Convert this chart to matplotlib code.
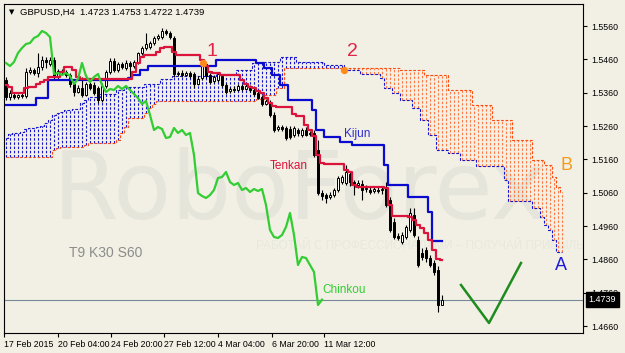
import matplotlib
matplotlib.use("Agg")
import matplotlib.pyplot as plt
import numpy as np

plt.rcParams["font.family"] = ["Liberation Sans", "DejaVu Sans"]

# ---------------------------------------------------------------------------
# Data (GBPUSD H4)
# ---------------------------------------------------------------------------
opens = [1.5398, 1.5347, 1.5353, 1.5347, 1.5353, 1.5350, 1.5422, 1.5428, 1.5419, 1.5437,
         1.5458, 1.5446, 1.5458, 1.5407, 1.5425, 1.5422, 1.5413, 1.5386, 1.5362, 1.5374,
         1.5353, 1.5386, 1.5383, 1.5374, 1.5338, 1.5380, 1.5422, 1.5455, 1.5428, 1.5446,
         1.5434, 1.5449, 1.5440, 1.5452, 1.5479, 1.5494, 1.5497, 1.5509, 1.5524, 1.5527,
         1.5545, 1.5539, 1.5524, 1.5416, 1.5419, 1.5413, 1.5419, 1.5416, 1.5386, 1.5404,
         1.5446, 1.5413, 1.5395, 1.5398, 1.5410, 1.5383, 1.5365, 1.5371, 1.5368, 1.5380,
         1.5371, 1.5380, 1.5368, 1.5359, 1.5347, 1.5326, 1.5332, 1.5293, 1.5251, 1.5257,
         1.5254, 1.5251, 1.5233, 1.5248, 1.5233, 1.5248, 1.5236, 1.5239, 1.5188, 1.5059,
         1.5053, 1.5047, 1.5053, 1.5068, 1.5092, 1.5089, 1.5116, 1.5092, 1.5083, 1.5086,
         1.5071, 1.5068, 1.5065, 1.5068, 1.5068, 1.5077, 1.5038, 1.4972, 1.4930, 1.4912,
         1.4927, 1.4948, 1.4993, 1.4918, 1.4879, 1.4888, 1.4864, 1.4849, 1.4828, 1.4723]
highs = [1.5407, 1.5368, 1.5359, 1.5356, 1.5359, 1.5434, 1.5437, 1.5434, 1.5479, 1.5470,
         1.5467, 1.5467, 1.5467, 1.5431, 1.5431, 1.5428, 1.5419, 1.5392, 1.5383, 1.5407,
         1.5392, 1.5392, 1.5392, 1.5380, 1.5389, 1.5428, 1.5464, 1.5464, 1.5452, 1.5452,
         1.5458, 1.5455, 1.5458, 1.5482, 1.5500, 1.5539, 1.5515, 1.5530, 1.5536, 1.5554,
         1.5551, 1.5545, 1.5530, 1.5425, 1.5428, 1.5425, 1.5425, 1.5422, 1.5410, 1.5458,
         1.5452, 1.5419, 1.5413, 1.5422, 1.5416, 1.5389, 1.5377, 1.5380, 1.5386, 1.5386,
         1.5386, 1.5383, 1.5374, 1.5365, 1.5353, 1.5341, 1.5338, 1.5302, 1.5263, 1.5263,
         1.5260, 1.5260, 1.5260, 1.5254, 1.5254, 1.5257, 1.5245, 1.5248, 1.5218, 1.5068,
         1.5059, 1.5062, 1.5074, 1.5110, 1.5113, 1.5143, 1.5122, 1.5098, 1.5098, 1.5098,
         1.5083, 1.5077, 1.5080, 1.5077, 1.5080, 1.5092, 1.5047, 1.4984, 1.4939, 1.4942,
         1.4963, 1.5014, 1.5014, 1.4930, 1.4894, 1.4897, 1.4873, 1.4858, 1.4840, 1.4753]
lows = [1.5338, 1.5338, 1.5341, 1.5341, 1.5344, 1.5344, 1.5416, 1.5413, 1.5407, 1.5428,
        1.5434, 1.5440, 1.5398, 1.5401, 1.5416, 1.5407, 1.5377, 1.5350, 1.5359, 1.5347,
        1.5350, 1.5368, 1.5353, 1.5329, 1.5332, 1.5374, 1.5416, 1.5422, 1.5422, 1.5431,
        1.5428, 1.5404, 1.5434, 1.5446, 1.5473, 1.5488, 1.5491, 1.5503, 1.5518, 1.5521,
        1.5533, 1.5521, 1.5407, 1.5410, 1.5407, 1.5410, 1.5404, 1.5374, 1.5383, 1.5398,
        1.5404, 1.5386, 1.5389, 1.5392, 1.5377, 1.5356, 1.5359, 1.5362, 1.5365, 1.5365,
        1.5368, 1.5362, 1.5350, 1.5341, 1.5320, 1.5323, 1.5287, 1.5242, 1.5245, 1.5245,
        1.5218, 1.5221, 1.5227, 1.5230, 1.5227, 1.5230, 1.5230, 1.5167, 1.5053, 1.5038,
        1.5029, 1.5041, 1.5047, 1.5062, 1.5086, 1.5083, 1.5080, 1.5053, 1.5074, 1.5038,
        1.5062, 1.5056, 1.5059, 1.5059, 1.5056, 1.5017, 1.4942, 1.4921, 1.4918, 1.4906,
        1.4921, 1.4942, 1.4927, 1.4837, 1.4858, 1.4852, 1.4837, 1.4813, 1.4702, 1.4722]
closes = [1.5347, 1.5359, 1.5347, 1.5353, 1.5350, 1.5422, 1.5428, 1.5419, 1.5437, 1.5458,
          1.5452, 1.5458, 1.5407, 1.5425, 1.5422, 1.5413, 1.5386, 1.5362, 1.5374, 1.5353,
          1.5386, 1.5374, 1.5359, 1.5338, 1.5380, 1.5422, 1.5455, 1.5428, 1.5446, 1.5437,
          1.5449, 1.5440, 1.5452, 1.5479, 1.5494, 1.5506, 1.5509, 1.5524, 1.5530, 1.5545,
          1.5539, 1.5527, 1.5416, 1.5419, 1.5413, 1.5419, 1.5410, 1.5386, 1.5401, 1.5449,
          1.5410, 1.5392, 1.5407, 1.5416, 1.5383, 1.5362, 1.5371, 1.5368, 1.5380, 1.5371,
          1.5380, 1.5368, 1.5356, 1.5344, 1.5326, 1.5335, 1.5293, 1.5248, 1.5257, 1.5251,
          1.5224, 1.5227, 1.5254, 1.5239, 1.5248, 1.5233, 1.5239, 1.5173, 1.5059, 1.5050,
          1.5044, 1.5053, 1.5068, 1.5104, 1.5107, 1.5122, 1.5092, 1.5083, 1.5089, 1.5068,
          1.5074, 1.5062, 1.5071, 1.5065, 1.5071, 1.5023, 1.4948, 1.4927, 1.4924, 1.4933,
          1.4957, 1.4999, 1.4933, 1.4843, 1.4867, 1.4864, 1.4843, 1.4822, 1.4723, 1.4739]

# Ichimoku lines as step levels (value, number of bars)
tenkan_lvl = [1.5383, 1.5377, 1.5359, 1.5374, 1.5377, 1.5386, 1.5392, 1.5398, 1.5407, 1.5422,
              1.5437, 1.5428, 1.5407, 1.5401, 1.5422, 1.5449, 1.5467, 1.5473, 1.5482, 1.5494,
              1.5497, 1.5482, 1.5473, 1.5458, 1.5440, 1.5422, 1.5419, 1.5413, 1.5398, 1.5386,
              1.5377, 1.5374, 1.5365, 1.5359, 1.5344, 1.5329, 1.5320, 1.5317, 1.5296, 1.5290,
              1.5263, 1.5248, 1.5230, 1.5173, 1.5149, 1.5146, 1.5128, 1.5122, 1.5083, 1.5077,
              1.5074, 1.5023, 1.4990, 1.4987, 1.4978, 1.4963, 1.4954, 1.4939, 1.4918, 1.4888,
              1.4861, 1.4858]
tenkan_len = [1, 1, 3, 1, 2, 1, 1, 1, 3, 1,
              2, 1, 1, 13, 1, 1, 1, 3, 1, 1,
              2, 1, 6, 1, 1, 1, 2, 5, 1, 1,
              1, 1, 1, 1, 1, 1, 1, 4, 1, 2,
              1, 1, 1, 1, 1, 5, 1, 1, 1, 7,
              1, 1, 4, 1, 1, 1, 1, 1, 1, 1,
              1, 1]
kijun_lvl = [1.5323, 1.5344, 1.5398, 1.5404, 1.5413, 1.5428, 1.5440, 1.5458, 1.5449, 1.5434,
             1.5413, 1.5383, 1.5338, 1.5308, 1.5248, 1.5227, 1.5212, 1.5203, 1.5143, 1.5083,
             1.5047, 1.5002, 1.4915]
kijun_len = [8, 3, 20, 1, 2, 2, 17, 10, 2, 2,
             2, 2, 6, 1, 2, 4, 3, 8, 1, 5,
             5, 1, 3]
span_a_lvl = [1.5224, 1.5236, 1.5239, 1.5242, 1.5251, 1.5254, 1.5257, 1.5260, 1.5269, 1.5278,
              1.5293, 1.5299, 1.5302, 1.5308, 1.5311, 1.5329, 1.5338, 1.5347, 1.5356, 1.5368,
              1.5377, 1.5386, 1.5401, 1.5410, 1.5416, 1.5428, 1.5449, 1.5452, 1.5467, 1.5452,
              1.5443, 1.5428, 1.5416, 1.5404, 1.5374, 1.5359, 1.5338, 1.5314, 1.5278, 1.5233,
              1.5188, 1.5179, 1.5158, 1.5140, 1.5098, 1.5035, 1.5014, 1.4987, 1.4963, 1.4948,
              1.4918, 1.4882]
span_a_len = [1, 1, 2, 1, 1, 2, 1, 1, 1, 1,
              1, 1, 1, 2, 2, 1, 1, 3, 4, 2,
              5, 4, 3, 11, 5, 4, 3, 4, 4, 7,
              5, 4, 5, 1, 2, 2, 3, 2, 2, 2,
              3, 3, 4, 7, 1, 6, 2, 1, 1, 1,
              1, 2]
span_b_lvl = [1.5167, 1.5188, 1.5194, 1.5197, 1.5203, 1.5209, 1.5218, 1.5239, 1.5257, 1.5284,
              1.5299, 1.5314, 1.5326, 1.5335, 1.5341, 1.5353, 1.5374, 1.5434, 1.5428, 1.5413,
              1.5368, 1.5323, 1.5278, 1.5218, 1.5158, 1.5143, 1.5107, 1.5077, 1.5062]
span_b_len = [12, 1, 1, 6, 1, 7, 1, 1, 1, 4,
              1, 1, 1, 25, 2, 3, 2, 29, 6, 6,
              6, 5, 5, 5, 3, 2, 1, 1, 1]

chinkou_shift = 30
y_ticks = [1.4660, 1.4760, 1.4860, 1.4960, 1.5060, 1.5160, 1.5260, 1.5360, 1.5460, 1.5560]
x_tick_bars = [-0.5, 13, 26.25, 39.5, 53, 66.5, 79.5]
x_tick_labels = ["17 Feb 2015", "20 Feb 04:00", "24 Feb 20:00", "27 Feb 12:00",
                 "4 Mar 04:00", "6 Mar 20:00", "11 Mar 12:00"]
signal_bars = [49.2, 84.5]
signal_prices = [1.5449, 1.5428]
forecast_bars = [113.75, 120.75, 128.75]
forecast_prices = [1.4783, 1.4669, 1.4849]

BG = "#F2F0E4"
W, H = 625, 353


def px(x, y):
    """Pixel position of the image -> axes fraction."""
    return (x - 4) / 579.0, (333 - y) / 329.0


fig = plt.figure(figsize=(W / 100, H / 100), dpi=100)
fig.patch.set_facecolor(BG)
ax = fig.add_axes([4 / W, 20 / H, 579 / W, 329 / H])
ax.set_facecolor(BG)
ax.set_xlim(-0.5, 144.25)
ax.set_ylim(1.4639, 1.5626)

n = len(closes)
bars = np.arange(n)
o, hi, lo, c = map(np.array, (opens, highs, lows, closes))

# watermark
wx, wy = px(300, 193)
ax.text(wx, wy, "RoboForex", transform=ax.transAxes, fontsize=68, color="#E5E5DB",
        family="DejaVu Sans", ha="center", va="center", zorder=0)
tx, ty = px(420, 246)
ax.text(tx, ty, "РАБОТАЙ С ПРОФЕССИОНАЛАМИ – ПОЛУЧАЙ ПРИБЫЛЬ", transform=ax.transAxes,
        fontsize=8.5, color="#E8E8DF", ha="center", va="center", zorder=0)

# cloud
span_a = np.repeat(span_a_lvl, span_a_len)
span_b = np.repeat(span_b_lvl, span_b_len)
cb = np.arange(len(span_a))
up = span_a >= span_b
ax.vlines(cb[up], span_b[up], span_a[up], colors="#1414D2", linewidth=0.8,
          linestyles=(0, (2.2, 1.6)), zorder=1)
ax.vlines(cb[~up], span_a[~up], span_b[~up], colors="#FF7A45", linewidth=0.8,
          linestyles=(0, (2.2, 1.6)), zorder=1)
ax.plot(cb, span_a, drawstyle="steps-mid", color="#1414D2", lw=0.8,
        ls=(0, (2.5, 1.5)), zorder=1.5)
ax.plot(cb, span_b, drawstyle="steps-mid", color="#FF4A10", lw=0.8,
        ls=(0, (2.5, 1.5)), zorder=1.5)

# candles
ax.vlines(bars, lo, hi, colors="black", linewidth=0.8, zorder=3)
bear = c < o
body = np.where(np.abs(c - o) < 0.00025, 0.00025, c - o)
ax.bar(bars, body, bottom=o, width=0.6, color=np.where(bear, "black", "white"),
       edgecolor="black", linewidth=0.7, zorder=3.1)

# ichimoku lines
tenkan = np.repeat(tenkan_lvl, tenkan_len)
kijun = np.repeat(kijun_lvl, kijun_len)
ax.plot(bars, kijun, drawstyle="steps-mid", color="#0B0BD0", lw=1.6, zorder=4)
ax.plot(bars, tenkan, drawstyle="steps-mid", color="#DC143C", lw=1.6, zorder=4.1)
ax.plot(bars[:n - chinkou_shift], c[chinkou_shift:], color="#32CD32", lw=1.6, zorder=4.2)

# last price line
ax.axhline(closes[-1], color="#778899", lw=0.8, zorder=2)

# signals and forecast
ax.scatter(signal_bars, signal_prices, s=28, color="#FF8C1A", zorder=5, linewidths=0)
ax.plot(forecast_bars, forecast_prices, color="#1E8C1E", lw=1.8, zorder=5)

labels = [
    ("1", 212, 52, "#E2234A", 14),
    ("2", 352, 52, "#E2234A", 14),
    ("Kijun", 357, 134, "#2B2BD6", 8.5),
    ("Tenkan", 289, 166, "#DC143C", 8.5),
    ("Chinkou", 344, 290, "#32CD32", 8.5),
    ("T9 K30 S60", 106, 253, "#8C8C8C", 10),
    ("A", 561, 266, "#1C1CD8", 13),
    ("B", 566, 165, "#F59A1E", 13),
]
for text, x, y, col, fs in labels:
    fx, fy = px(x, y)
    ax.text(fx, fy, text, transform=ax.transAxes, color=col, fontsize=fs,
            ha="center", va="center", zorder=6)

hx, hy = px(9, 12)
ax.text(hx, hy, "\u25BC", transform=ax.transAxes, fontsize=5, ha="left", va="center",
        family="DejaVu Sans")
hx, hy = px(20, 12)
ax.text(hx, hy, "GBPUSD,H4  1.4723 1.4753 1.4722 1.4739", transform=ax.transAxes,
        fontsize=6.8, ha="left", va="center")

# axes
ax.yaxis.tick_right()
ax.set_yticks(y_ticks)
ax.set_yticklabels([f"{v:.4f}" for v in y_ticks])
ax.set_xticks(x_tick_bars)
ax.set_xticklabels(x_tick_labels, ha="left")
ax.tick_params(axis="both", direction="out", length=3, width=0.8, labelsize=6.3,
               colors="black", pad=2)
ax.tick_params(axis="y", pad=3)
for sp in ax.spines.values():
    sp.set_color("black")
    sp.set_linewidth(0.8)

ax.annotate(f"{closes[-1]:.4f}", xy=(1.0, closes[-1]), xycoords=("axes fraction", "data"),
            xytext=(4, 0), textcoords="offset points", fontsize=6.5, color="white",
            va="center", ha="left", annotation_clip=False, zorder=10,
            bbox=dict(boxstyle="square,pad=0.3", fc="black", ec="black"))

fig.savefig("out.png", dpi=100, facecolor=BG)
